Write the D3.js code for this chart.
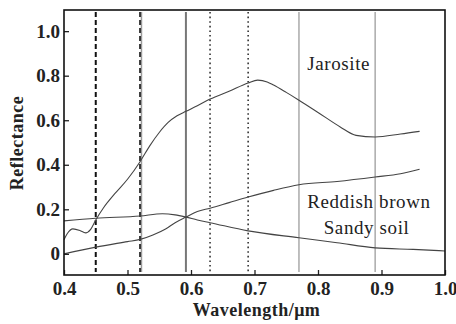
<!DOCTYPE html>
<html>
<head>
<meta charset="utf-8">
<script src="https://cdn.jsdelivr.net/npm/d3@7"></script>
<style>
  body { margin: 0; background: #fff; }
  text { font-family: "Liberation Serif", "Times New Roman", serif; fill: #222; }
</style>
</head>
<body>
<div id="chart"></div>
<script>
// ---- data ----
const jarositeWl = [0.40, 0.405, 0.414, 0.425, 0.434, 0.442, 0.45, 0.462, 0.48, 0.50, 0.52, 0.535, 0.55, 0.564, 0.578, 0.592, 0.61, 0.63, 0.66, 0.69, 0.705, 0.72, 0.73, 0.75, 0.77, 0.80, 0.835, 0.86, 0.89, 0.93, 0.96];
const jarositeR  = [0.063, 0.09, 0.112, 0.105, 0.094, 0.11, 0.152, 0.206, 0.27, 0.335, 0.415, 0.485, 0.545, 0.59, 0.62, 0.64, 0.665, 0.695, 0.73, 0.767, 0.78, 0.772, 0.758, 0.725, 0.69, 0.635, 0.57, 0.532, 0.525, 0.538, 0.55];

const reddishWl = [0.40, 0.45, 0.50, 0.52, 0.54, 0.56, 0.575, 0.592, 0.61, 0.63, 0.66, 0.69, 0.73, 0.77, 0.83, 0.89, 0.93, 0.96];
const reddishR  = [0.0, 0.03, 0.055, 0.065, 0.085, 0.112, 0.14, 0.165, 0.19, 0.205, 0.23, 0.255, 0.285, 0.31, 0.325, 0.345, 0.36, 0.38];

const sandyWl = [0.40, 0.45, 0.52, 0.555, 0.575, 0.592, 0.61, 0.63, 0.69, 0.77, 0.83, 0.89, 0.95, 1.00];
const sandyR  = [0.148, 0.16, 0.17, 0.18, 0.175, 0.165, 0.152, 0.14, 0.103, 0.072, 0.05, 0.027, 0.02, 0.013];

// band edge markers
const bandWl   = [0.45, 0.52, 0.522, 0.592, 0.63, 0.69, 0.77, 0.89];
const bandKind = ["dash", "dash", "grey", "darkgrey", "dot", "dot", "light", "light"];

const xTicks = [0.4, 0.5, 0.6, 0.7, 0.8, 0.9, 1.0];
const yTicks = [0, 0.2, 0.4, 0.6, 0.8, 1.0];

const labels = [
  { text: "Jarosite", wl: 0.783, r: 0.825 },
  { text: "Reddish brown", wl: 0.783, r: 0.206 },
  { text: "Sandy soil", wl: 0.809, r: 0.09 }
];

// ---- layout ----
const width = 456, height = 324;
const margin = { top: 10, right: 11, bottom: 49, left: 64 };
const w = width - margin.left - margin.right;
const h = height - margin.top - margin.bottom;

const svg = d3.select("#chart").append("svg")
  .attr("width", width).attr("height", height);

const g = svg.append("g").attr("transform", `translate(${margin.left},${margin.top})`);

const x = d3.scaleLinear().domain([0.4, 1.0]).range([0, w]);
const y = d3.scaleLinear().domain([-0.095, 1.095]).range([h, 0]);

// vertical band lines
const kindStyle = {
  dash:     { stroke: "#111", width: 2,   dash: "5,3" },
  grey:     { stroke: "#999", width: 1.5, dash: null },
  darkgrey: { stroke: "#777", width: 2,   dash: null },
  dot:      { stroke: "#333", width: 1.6, dash: "1.6,3" },
  light:    { stroke: "#aaa", width: 1.5, dash: null }
};

g.selectAll(".band")
  .data(bandWl.map((wl, i) => ({ wl, kind: bandKind[i] })))
  .enter().append("line")
  .attr("class", "band")
  .attr("x1", d => x(d.wl)).attr("x2", d => x(d.wl))
  .attr("y1", 2).attr("y2", h - 3)
  .attr("stroke", d => kindStyle[d.kind].stroke)
  .attr("stroke-width", d => kindStyle[d.kind].width)
  .attr("stroke-dasharray", d => kindStyle[d.kind].dash);

// spectra
const line = d3.line()
  .x(d => x(d[0])).y(d => y(d[1]))
  .curve(d3.curveMonotoneX);

const series = [
  d3.zip(jarositeWl, jarositeR),
  d3.zip(reddishWl, reddishR),
  d3.zip(sandyWl, sandyR)
];

g.selectAll(".spec")
  .data(series)
  .enter().append("path")
  .attr("class", "spec")
  .attr("d", line)
  .attr("fill", "none")
  .attr("stroke", "#444")
  .attr("stroke-width", 1.1);

// axes (ticks pointing inward)
const xAxis = g.append("g").attr("transform", `translate(0,${h})`)
  .call(d3.axisBottom(x).tickValues(xTicks).tickSize(-5).tickPadding(7).tickFormat(d3.format(".1f")));
const yAxis = g.append("g")
  .call(d3.axisLeft(y).tickValues(yTicks).tickSize(-5).tickPadding(4)
    .tickFormat(d => d === 0 ? "0" : d3.format(".1f")(d)));

[xAxis, yAxis].forEach(a => {
  a.select(".domain").remove();
  a.selectAll(".tick line").attr("stroke", "#222").attr("stroke-width", 1.3);
  a.selectAll(".tick text")
    .style("font-size", "19px")
    .style("font-weight", "bold")
    .attr("fill", "#222");
});

// frame
g.append("rect")
  .attr("width", w).attr("height", h)
  .attr("fill", "none").attr("stroke", "#111").attr("stroke-width", 1.6);

// curve labels
g.selectAll(".lbl")
  .data(labels)
  .enter().append("text")
  .attr("class", "lbl")
  .attr("x", d => x(d.wl)).attr("y", d => y(d.r))
  .style("font-size", "19px")
  .style("letter-spacing", "0.6px")
  .text(d => d.text);

// axis titles
svg.append("text")
  .attr("x", margin.left + w / 2 + 2).attr("y", 316)
  .attr("text-anchor", "middle")
  .style("font-size", "18px").style("font-weight", "bold").style("letter-spacing", "0.5px")
  .text("Wavelength/μm");

svg.append("text")
  .attr("transform", "translate(23,143) rotate(-90)")
  .attr("text-anchor", "middle")
  .style("font-size", "18px").style("font-weight", "bold").style("letter-spacing", "0.5px")
  .text("Reflectance");
</script>
</body>
</html>
